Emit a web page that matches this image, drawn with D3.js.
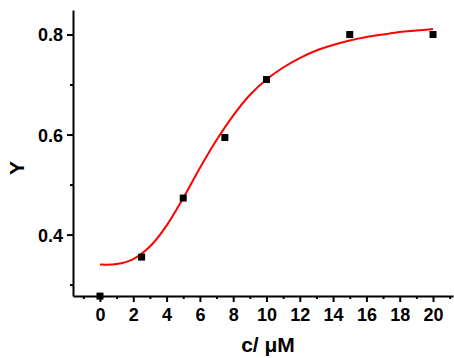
<!DOCTYPE html>
<html><head><meta charset="utf-8">
<script src="https://cdn.jsdelivr.net/npm/d3@7"></script>
<style>body{margin:0;background:#fff}svg{display:block}text{font-family:"Liberation Sans",Arial,sans-serif;font-weight:bold;fill:#000}</style>
</head><body>
<script>
const concX = [0, 2.5, 5, 7.5, 10, 15, 20];
const valY = [0.277, 0.355, 0.473, 0.594, 0.71, 0.80, 0.80];
const fitX = [0,1,2,3,4,5,6,7,8,9,10,11,12,13,14,15,16,17,18,19,20];
const fitY = [0.340,0.341,0.351,0.376,0.418,0.473,0.533,0.589,0.638,0.679,0.710,0.734,0.753,0.768,0.779,0.788,0.795,0.800,0.805,0.808,0.811];
const xTicks = [0,2,4,6,8,10,12,14,16,18,20];
const xMinor = [-1,1,3,5,7,9,11,13,15,17,19,21];
const yTicks = [0.4,0.6,0.8];
const yMinor = [0.3,0.5,0.7];

const W=454,H=358;
const svg=d3.select("body").append("svg").attr("width",W).attr("height",H);
const x=d3.scaleLinear().domain([-1.62,21.2]).range([73,453]);
const y=d3.scaleLinear().domain([0.2772,0.849]).range([296,10]);

const xAx=svg.append("g").attr("transform","translate(0,296)")
  .call(d3.axisBottom(x).tickValues(xTicks).tickSize(6).tickSizeOuter(0).tickFormat(d3.format("d")));
svg.append("g").attr("transform","translate(0,296)")
  .call(d3.axisBottom(x).tickValues(xMinor).tickSize(3).tickSizeOuter(0).tickFormat(""))
  .select(".domain").remove();
const yAx=svg.append("g").attr("transform","translate(73,0)")
  .call(d3.axisLeft(y).tickValues(yTicks).tickSize(6).tickSizeOuter(0).tickFormat(d3.format(".1f")));
svg.append("g").attr("transform","translate(73,0)")
  .call(d3.axisLeft(y).tickValues(yMinor).tickSize(3).tickSizeOuter(0).tickFormat(""))
  .select(".domain").remove();
svg.selectAll(".domain").attr("stroke","#000").attr("stroke-width",2);
svg.selectAll(".tick line").attr("stroke","#000").attr("stroke-width",2);
xAx.selectAll(".tick text").attr("font-size",18).attr("dy",0).attr("y",25);
yAx.selectAll(".tick text").attr("font-size",18).attr("x",-10).attr("dy","0.36em");

const line=d3.line().x((d,i)=>x(fitX[i])).y(d=>y(d)).curve(d3.curveCatmullRom);
svg.append("path").datum(fitY).attr("d",line).attr("fill","none").attr("stroke","#ff0000").attr("stroke-width",2);

svg.selectAll("rect.pt").data(valY).enter().append("rect").attr("class","pt")
  .attr("x",(d,i)=>x(concX[i])-3.5).attr("y",d=>y(d)-3.5).attr("width",7).attr("height",7).attr("fill","#000");

svg.append("text").attr("x",268).attr("y",352).attr("text-anchor","middle").attr("font-size",21).text("c/ μM");
svg.append("text").attr("transform","translate(24,168) rotate(-90)").attr("text-anchor","middle").attr("font-size",21).text("Y");
</script>
</body></html>
